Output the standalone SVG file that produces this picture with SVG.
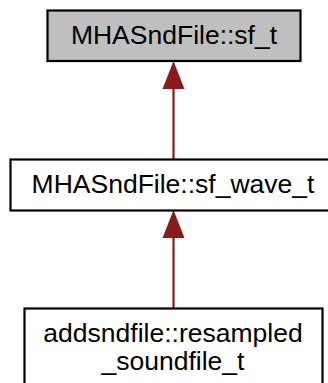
<svg xmlns="http://www.w3.org/2000/svg" width="328" height="383" viewBox="0 0 328 383">
<defs>
<style>
.box{stroke:#000;stroke-width:2.2}
.lbl{font-family:"Liberation Sans",Arial,sans-serif;font-size:26.5px;fill:#000;text-anchor:middle}
.edge{stroke:#8b1a1a;stroke-width:2.2;fill:none}
</style>
<marker id="ah" markerUnits="userSpaceOnUse" markerWidth="22" markerHeight="29" refX="11" refY="0" orient="auto" viewBox="0 0 22 29">
<path d="M0,29 L11,0 L22,29 Z" fill="#8b1a1a"/>
</marker>
</defs>
<rect width="328" height="383" fill="#fff"/>
<g id="connectors">
<line class="edge" x1="173.5" y1="159" x2="173.5" y2="89"/>
<path d="M162.5,89 L173.5,61 L184.5,89 Z" fill="#8b1a1a"/>
<line class="edge" x1="173.5" y1="308" x2="173.5" y2="238"/>
<path d="M162.5,238 L173.5,210 L184.5,238 Z" fill="#8b1a1a"/>
</g>
<g id="node-sf_t">
<rect class="box" x="47.5" y="10.5" width="253" height="50.5" fill="#bfbfbf"/>
<text class="lbl" x="174" y="44">MHASndFile::sf_t</text>
</g>
<g id="node-sf_wave_t">
<rect class="box" x="10.5" y="159.5" width="328" height="51" fill="#fff"/>
<text class="lbl" x="173" y="193">MHASndFile::sf_wave_t</text>
</g>
<g id="node-resampled_soundfile_t">
<rect class="box" x="24.5" y="308.5" width="298" height="90" fill="#fff"/>
<text class="lbl" x="173" y="342">addsndfile::resampled</text>
<text class="lbl" x="173" y="370">_soundfile_t</text>
</g>
</svg>
